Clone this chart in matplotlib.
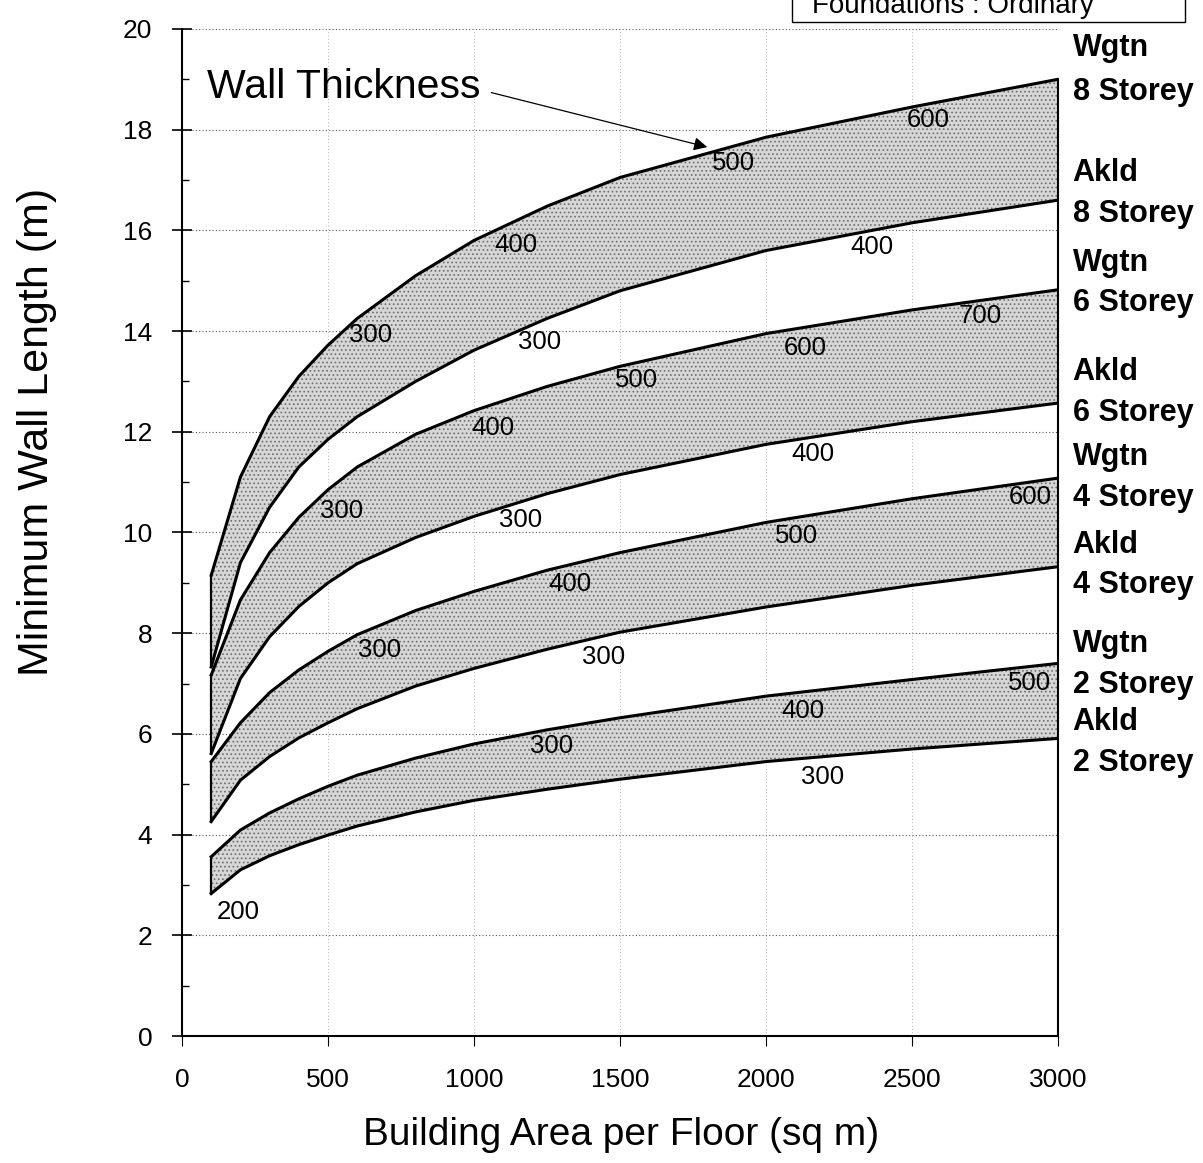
import matplotlib.pyplot as plt
from matplotlib.patches import Rectangle
import numpy as np

plt.rcParams['font.family'] = ['Liberation Sans', 'DejaVu Sans']
plt.rcParams['hatch.linewidth'] = 0.7

# building area per floor (sq m)
area = [100, 200, 300, 400, 500, 600, 800, 1000, 1250, 1500, 2000, 2500, 3000]

# minimum wall length (m)
wgtn8 = [9.15, 11.1, 12.3, 13.1, 13.72, 14.25, 15.1, 15.8, 16.48, 17.05, 17.85, 18.45, 19.0]
akld8 = [7.33, 9.4, 10.5, 11.3, 11.85, 12.3, 13.0, 13.62, 14.25, 14.8, 15.6, 16.15, 16.6]
wgtn6 = [7.17, 8.66, 9.6, 10.3, 10.85, 11.3, 11.95, 12.42, 12.9, 13.3, 13.95, 14.42, 14.82]
akld6 = [5.61, 7.1, 7.93, 8.53, 9.0, 9.38, 9.9, 10.32, 10.77, 11.15, 11.75, 12.2, 12.57]
wgtn4 = [5.45, 6.22, 6.82, 7.27, 7.64, 7.97, 8.45, 8.83, 9.25, 9.6, 10.2, 10.67, 11.08]
akld4 = [4.26, 5.08, 5.55, 5.92, 6.22, 6.5, 6.95, 7.3, 7.68, 8.02, 8.52, 8.95, 9.32]
wgtn2 = [3.56, 4.09, 4.43, 4.71, 4.96, 5.18, 5.52, 5.8, 6.08, 6.32, 6.75, 7.08, 7.4]
akld2 = [2.83, 3.3, 3.58, 3.8, 3.99, 4.17, 4.45, 4.68, 4.9, 5.1, 5.45, 5.7, 5.91]

bands = [(wgtn8, akld8), (wgtn6, akld6), (wgtn4, akld4), (wgtn2, akld2)]

# wall thickness annotations (mm): text, x, y
thick_text = ['600', '500', '400', '300', '400', '300',
              '700', '600', '500', '400', '300', '400', '300',
              '600', '500', '400', '300', '300',
              '500', '400', '300', '300', '200']
thick_x = [2555, 1887, 1144, 644, 2363, 1223,
           2733, 2134, 1555, 1065, 548, 2161, 1158,
           2904, 2106, 1329, 678, 1442,
           2901, 2127, 1267, 2195, 192]
thick_y = [18.19, 17.34, 15.71, 13.92, 15.67, 13.78,
           14.30, 13.66, 13.03, 12.08, 10.43, 11.56, 10.25,
           10.71, 9.93, 8.98, 7.67, 7.53,
           7.01, 6.45, 5.76, 5.14, 2.46]

# right hand curve labels
side_text = ['Wgtn', '8 Storey', 'Akld', '8 Storey', 'Wgtn', '6 Storey', 'Akld', '6 Storey',
             'Wgtn', '4 Storey', 'Akld', '4 Storey', 'Wgtn', '2 Storey', 'Akld', '2 Storey']
side_y = [19.62, 18.75, 17.14, 16.33, 15.35, 14.56, 13.19, 12.37,
          11.5, 10.69, 9.75, 8.96, 7.79, 6.97, 6.24, 5.42]

fig = plt.figure(figsize=(12.03, 11.63), dpi=100)
ax = fig.add_axes([0.1513, 0.1092, 0.7282, 0.8659])

for top, bot in bands:
    ax.fill_between(area, bot, top, facecolor='#d6d6d6', edgecolor='#6e6e6e',
                    hatch='....', linewidth=0, zorder=1)
    ax.plot(area, top, color='black', lw=2.2, zorder=3)
    ax.plot(area, bot, color='black', lw=2.2, zorder=3)
    ax.plot([area[0], area[0]], [bot[0], top[0]], color='black', lw=1.6, zorder=3)

for t, x, y in zip(thick_text, thick_x, thick_y):
    ax.text(x, y, t, fontsize=18.5, ha='center', va='center', zorder=4)

for t, y in zip(side_text, side_y):
    ax.text(3050, y, t, fontsize=22, fontweight='bold', ha='left', va='center', clip_on=False)

ax.text(86, 18.85, 'Wall Thickness', fontsize=29.5, ha='left', va='center')
ax.annotate('', xy=(1808, 17.64), xytext=(1050, 18.75),
            arrowprops=dict(arrowstyle='-|>', lw=0.9, color='black', mutation_scale=20))

ax.set_xlim(0, 3000)
ax.set_ylim(0, 20)
ax.set_xticks(np.arange(0, 3001, 500))
ax.set_yticks(np.arange(0, 21, 2))
ax.set_yticks(np.arange(0, 21, 1), minor=True)
ax.tick_params(axis='y', which='major', direction='inout', length=15, width=1.2,
               labelsize=19, pad=14)
ax.tick_params(axis='y', which='minor', direction='in', length=5, width=1)
ax.tick_params(axis='x', which='major', direction='out', length=7, width=0.8,
               labelsize=19, pad=16)

ax.grid(True, axis='y', which='major', linestyle=(0, (1, 2)), color='#555555', lw=0.8)
ax.grid(True, axis='x', which='major', linestyle=(0, (1, 3)), color='#999999', lw=0.6)
ax.set_axisbelow(True)

ax.spines['top'].set_visible(False)
ax.spines['right'].set_bounds(0, wgtn8[-1])
for s in ['left', 'bottom', 'right']:
    ax.spines[s].set_linewidth(1.5)

ax.set_xlabel('Building Area per Floor (sq m)', fontsize=28, va='center')
ax.xaxis.set_label_coords(0.501, -0.098)
ax.set_ylabel('Minimum Wall Length (m)', fontsize=31, va='center')
ax.yaxis.set_label_coords(-0.165, 0.60)

# partly visible header box
fig.patches.append(Rectangle((792 / 1203, 1 - 22 / 1163), 393 / 1203, 60 / 1163,
                             transform=fig.transFigure, facecolor='white',
                             edgecolor='black', lw=1.0, clip_on=False))
fig.text(812 / 1203, 1 - 13 / 1163, 'Foundations : Ordinary', fontsize=20,
         ha='left', va='baseline')

fig.savefig('out.png', dpi=100)
